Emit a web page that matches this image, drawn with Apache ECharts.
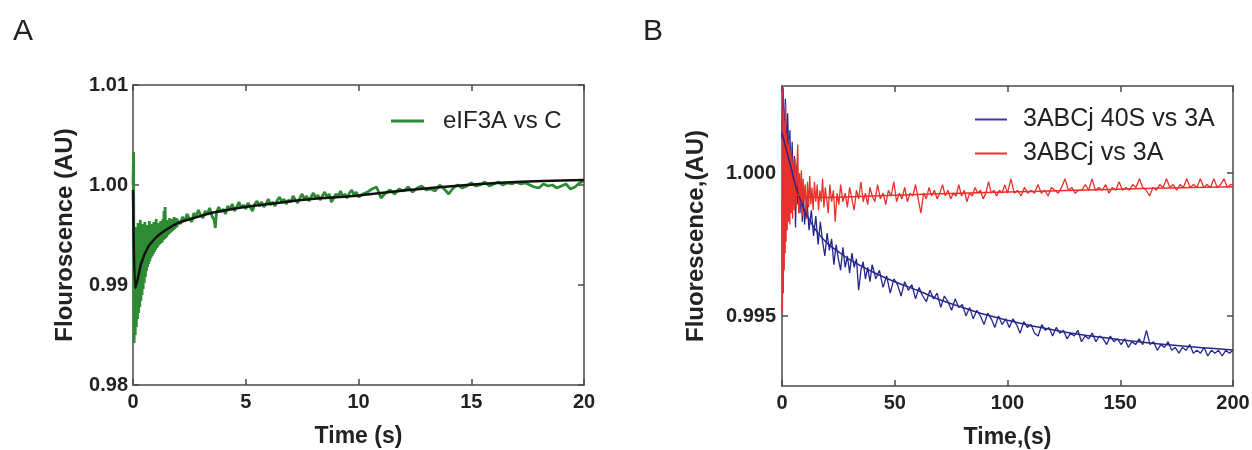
<!DOCTYPE html>
<html>
<head>
<meta charset="utf-8">
<script src="https://cdn.jsdelivr.net/npm/echarts@6/dist/echarts.min.js"></script>
<style>
html,body{margin:0;padding:0;background:#fff;}
#chart{width:1252px;height:450px;}
</style>
</head>
<body>
<div id="chart"></div>
<script>
// ---------- Panel A data: [time (s), fluorescence] ----------
const aSignal = [
[0,1.0000],[0.025,1.0033],[0.05,0.9842],[0.075,0.9950],[0.1,0.9850],[0.125,0.9958],[0.15,0.9858],[0.175,0.9948],[0.2,0.9866],[0.225,0.9962],
[0.25,0.9872],[0.275,0.9952],[0.3,0.9878],[0.325,0.9965],[0.35,0.9884],[0.375,0.9955],[0.4,0.9890],[0.425,0.9961],[0.45,0.9896],[0.475,0.9950],
[0.5,0.9902],[0.525,0.9963],[0.55,0.9908],[0.575,0.9957],[0.6,0.9914],[0.625,0.9960],[0.65,0.9918],[0.675,0.9953],[0.7,0.9921],[0.725,0.9964],
[0.75,0.9924],[0.775,0.9956],[0.8,0.9927],[0.825,0.9961],[0.85,0.9929],[0.875,0.9955],[0.9,0.9931],[0.925,0.9963],[0.95,0.9933],[0.975,0.9957],
[1.0,0.9935],[1.025,0.9966],[1.05,0.9937],[1.075,0.9958],[1.1,0.9938],[1.125,0.9962],[1.15,0.9940],[1.175,0.9957],[1.2,0.9941],[1.225,0.9964],
[1.25,0.9942],[1.275,0.9960],[1.3,0.9943],[1.325,0.9966],[1.35,0.9945],[1.375,0.9974],[1.4,0.9946],[1.425,0.9978],[1.45,0.9947],[1.475,0.9962],
[1.5,0.9948],[1.525,0.9965],[1.55,0.9950],[1.575,0.9961],[1.6,0.9951],[1.625,0.9967],[1.65,0.9952],[1.675,0.9963],[1.7,0.9953],[1.725,0.9966],
[1.75,0.9954],[1.775,0.9962],[1.8,0.9955],[1.825,0.9968],[1.85,0.9956],[1.875,0.9964],[1.9,0.9957],[1.925,0.9967],[1.95,0.9958],[1.975,0.9965],
[2.0,0.9966],[2.1,0.9961],[2.2,0.9968],[2.3,0.9964],[2.4,0.9971],[2.5,0.9966],[2.6,0.9963],[2.7,0.9972],[2.8,0.9968],[2.9,0.9975],
[3.0,0.9970],[3.1,0.9967],[3.2,0.9974],[3.3,0.9971],[3.4,0.9977],[3.5,0.9969],[3.6,0.9965],[3.65,0.9957],[3.7,0.9972],[3.8,0.9978],[3.9,0.9973],
[4.0,0.9976],[4.1,0.9971],[4.2,0.9979],[4.3,0.9975],[4.4,0.9981],[4.5,0.9974],[4.6,0.9978],[4.7,0.9983],[4.8,0.9977],[4.9,0.9980],
[5.0,0.9976],[5.1,0.9982],[5.2,0.9978],[5.3,0.9974],[5.4,0.9981],[5.5,0.9984],[5.6,0.9979],[5.7,0.9983],[5.8,0.9978],[5.9,0.9981],
[6.0,0.9986],[6.1,0.9980],[6.2,0.9983],[6.3,0.9979],[6.4,0.9985],[6.5,0.9988],[6.6,0.9983],[6.7,0.9986],[6.8,0.9981],[6.9,0.9985],
[7.0,0.9983],[7.1,0.9989],[7.2,0.9985],[7.3,0.9982],[7.4,0.9987],[7.5,0.9991],[7.6,0.9986],[7.7,0.9989],[7.8,0.9984],[7.9,0.9988],
[8.0,0.9992],[8.1,0.9987],[8.2,0.9990],[8.3,0.9985],[8.4,0.9989],[8.5,0.9993],[8.6,0.9988],[8.7,0.9991],[8.8,0.9983],[8.9,0.9987],
[9.0,0.9991],[9.1,0.9989],[9.2,0.9994],[9.3,0.9988],[9.4,0.9991],[9.5,0.9987],[9.6,0.9992],[9.7,0.9995],[9.8,0.9990],[9.9,0.9993],
[10.0,0.9988],[10.2,0.9991],[10.4,0.9993],[10.6,0.9996],[10.8,0.9998],[11.0,0.9987],[11.2,0.9992],[11.4,0.9995],[11.6,0.9991],[11.8,0.9996],
[12.0,0.9994],[12.2,0.9998],[12.4,0.9993],[12.6,0.9997],[12.8,0.9999],[13.0,0.9995],[13.2,0.9996],[13.4,0.9994],[13.6,1.0000],[13.8,0.9996],
[14.0,0.9991],[14.2,0.9997],[14.4,1.0000],[14.6,0.9997],[14.8,0.9999],[15.0,1.0002],[15.2,0.9999],[15.4,1.0000],[15.6,1.0003],[15.8,0.9999],
[16.0,1.0001],[16.2,1.0003],[16.4,1.0000],[16.6,1.0002],[16.8,1.0001],[17.0,1.0003],[17.2,1.0001],[17.4,1.0002],[17.6,1.0000],[17.8,0.9998],
[18.0,0.9997],[18.2,1.0001],[18.4,0.9999],[18.6,1.0000],[18.8,0.9997],[19.0,0.9999],[19.2,1.0001],[19.4,0.9996],[19.6,0.9998],[19.8,1.0002],[20.0,1.0004]
];
const aFit = [[0,0.9995],[0.1,0.9897],[0.2,0.9905],[0.37,0.9922],[0.67,0.9938],[1.0,0.9947],[1.26,0.9952],[1.6,0.9957],[2.0,0.9962],[2.7,0.9967],
[3.47,0.9972],[4.2,0.9975],[4.95,0.9978],[6.4,0.9982],[7.9,0.9986],[9.8,0.9989],[12,0.99945],[14.8,1.0000],[17,1.0003],[20,1.0005]];

// ---------- Panel B data: [time (s), fluorescence] ----------
const bBlue = [
[0,1.0012],[0.5,1.0030],[1.0,1.0010],[1.5,1.0026],[2.0,1.0006],[2.5,1.0021],[3.0,1.0004],[3.5,1.0015],[4.0,0.9996],[4.5,1.0011],
[5.0,0.9993],[5.5,1.0006],[6.0,0.9981],[6.5,1.0003],[7.0,0.9989],[7.5,0.9998],[8.0,0.9986],[8.5,0.9997],[9.0,0.9983],[9.5,0.9994],
[10,0.9982],[11,0.9991],[12,0.9980],[13,0.9987],[14,0.9978],[15,0.9985],[16,0.9975],[17,0.9983],[18,0.9976],[19,0.9971],
[20,0.9979],[21,0.9973],[22,0.9977],[23,0.9968],[24,0.9975],[25,0.9970],[26,0.9966],[27,0.9974],[28,0.9967],[29,0.9971],
[30,0.9965],[31,0.9972],[32,0.9967],[33,0.9970],[34,0.9959],[35,0.9966],[36,0.9969],[37,0.9963],[38,0.9967],[39,0.9962],
[40,0.9968],[41.6,0.9963],[43.2,0.9966],[44.8,0.9960],[46.4,0.9964],[48,0.9958],[49.6,0.9963],[51.2,0.9961],[52.8,0.9957],[54.4,0.9962],
[56,0.9959],[57.6,0.9961],[59.2,0.9956],[60.8,0.9960],[62.4,0.9957],[64,0.9955],[65.6,0.9959],[67.2,0.9956],[68.8,0.9958],[70.4,0.9953],
[72,0.9957],[73.6,0.9955],[75.2,0.9952],[76.8,0.9956],[78.4,0.9953],[80,0.9954],[81.6,0.9950],[83.2,0.9953],[84.8,0.9949],[86.4,0.9952],
[88,0.9950],[89.6,0.9947],[91.2,0.9951],[92.8,0.9949],[94.4,0.9946],[96,0.9950],[97.6,0.9947],[99.2,0.9949],[100.8,0.9946],[102.4,0.9949],
[104,0.9947],[105.6,0.9944],[107.2,0.9948],[108.8,0.9946],[110.4,0.9947],[112,0.9944],[113.6,0.9943],[115.2,0.9947],[116.8,0.9945],[118.4,0.9946],
[120,0.9943],[121.6,0.9946],[123.2,0.9944],[124.8,0.9945],[126.4,0.9942],[128,0.9944],[129.6,0.9943],[131.2,0.9945],[132.8,0.9941],[134.4,0.9943],
[136,0.9942],[137.6,0.9944],[139.2,0.9941],[140.8,0.9943],[142.4,0.9942],[144,0.9940],[145.6,0.9943],[147.2,0.9941],[148.8,0.9942],[150.4,0.9940],
[152,0.9942],[153.6,0.9939],[155.2,0.9941],[156.8,0.9940],[158.4,0.9942],[160,0.9940],[161.6,0.9945],[163.2,0.9940],[164.8,0.9941],[166.4,0.9938],
[168,0.9940],[169.6,0.9939],[171.2,0.9941],[172.8,0.9938],[174.4,0.9939],[176,0.9937],[177.6,0.9939],[179.2,0.9938],[180.8,0.9940],[182.4,0.9937],
[184,0.9938],[185.6,0.9937],[187.2,0.9939],[188.8,0.9936],[190.4,0.9938],[192,0.9937],[193.6,0.9938],[195.2,0.9936],[196.8,0.9938],[198.4,0.9937],[200,0.9938]
];
const bBlueFit = [[0,1.0014],[2,1.0008],[4,1.0002],[6,0.99955],[8,0.9991],[10,0.9987],[13,0.99825],[16,0.9979],[20,0.99755],[25,0.99725],
[30,0.99697],[40,0.99655],[50,0.9962],[60,0.9959],[70,0.99557],[80,0.9953],[90,0.99505],[100,0.99485],[110,0.99467],[120,0.99452],
[130,0.99438],[140,0.99427],[150,0.99417],[160,0.99408],[170,0.99400],[180,0.99393],[190,0.99387],[200,0.99381]];
const bRed = [
[0,0.9990],[0.2,0.9951],[0.4,1.0030],[0.6,0.9958],[0.8,1.0022],[1.0,0.9966],[1.2,1.0018],[1.4,0.9972],[1.6,1.0024],[1.8,0.9976],
[2.0,1.0014],[2.3,0.9980],[2.6,1.0010],[2.9,0.9983],[3.2,1.0012],[3.5,0.9982],[3.8,1.0008],[4.1,0.9986],[4.4,1.0006],[4.7,0.9984],
[5.0,1.0004],[5.4,0.9987],[5.8,1.0005],[6.2,0.9988],[6.6,1.0002],[7.0,1.0010],[7.4,0.9986],[7.8,1.0000],[8.2,0.9989],[8.6,1.0001],
[9.0,0.9985],[9.4,0.9998],[9.8,0.9990],[10.3,0.9996],[10.8,0.9984],[11.3,0.9997],[11.8,0.9988],[12.3,0.9999],[12.8,0.9989],[13.3,0.9995],
[13.8,0.9987],[14.4,0.9997],[15,0.9990],[15.6,0.9996],[16.2,0.9987],[16.8,0.9994],[17.4,0.9990],[18,0.9998],[18.6,0.9988],[19.2,0.9995],
[19.8,0.9991],[20.5,0.9986],[21.2,0.9996],[22,0.9990],[22.8,0.9994],[23.6,0.9983],[24.4,0.9993],[25.2,0.9989],[26,0.9996],[27,0.9990],
[28,0.9993],[29,0.9988],[30,0.9995],[31,0.9991],[32,0.9987],[33,0.9994],[34,0.9991],[35,0.9997],[36,0.9990],[37,0.9993],
[38,0.9989],[39,0.9995],[40,0.9992],[41.2,0.9990],[42.4,0.9996],[43.6,0.9991],[44.8,0.9993],[46,0.9989],[47.2,0.9994],[48.4,0.9992],
[49.6,0.9997],[50.8,0.9990],[52,0.9993],[53.2,0.9991],[54.4,0.9995],[55.6,0.9990],[56.8,0.9993],[58,0.9992],[59.2,0.9996],[60.4,0.9991],
[61.6,0.9986],[62.8,0.9993],[64,0.9991],[65.2,0.9995],[66.4,0.9992],[67.6,0.9994],[68.8,0.9991],[70,0.9993],[71.2,0.9996],[72.4,0.9992],
[73.6,0.9994],[74.8,0.9991],[76,0.9993],[77.2,0.9992],[78.4,0.9996],[79.6,0.9992],[80.8,0.9994],[82,0.9990],[83.2,0.9993],[84.4,0.9992],
[85.6,0.9995],[86.8,0.9993],[88,0.9994],[89.2,0.9991],[90.4,0.9993],[91.6,0.9997],[92.8,0.9993],[94,0.9994],[95.2,0.9992],[96.4,0.9994],
[97.6,0.9993],[98.8,0.9996],[100,0.9993],[101.5,0.9998],[103,0.9993],[104.5,0.9994],[106,0.9992],[107.5,0.9995],[109,0.9993],[110.5,0.9994],
[112,0.9993],[113.5,0.9996],[115,0.9993],[116.5,0.9994],[118,0.9992],[119.5,0.9995],[121,0.9994],[122.5,0.9993],[124,0.9995],[125.5,0.9998],
[127,0.9994],[128.5,0.9995],[130,0.9993],[131.5,0.9994],[133,0.9994],[134.5,0.9996],[136,0.9994],[137.5,0.9998],[139,0.9994],[140.5,0.9995],
[142,0.9994],[143.5,0.9996],[145,0.9993],[146.5,0.9995],[148,0.9994],[149.5,0.9997],[151,0.9994],[152.5,0.9995],[154,0.9994],[155.5,0.9996],
[157,0.9995],[158.5,0.9998],[160,0.9995],[161.5,0.9994],[163,0.9992],[164.5,0.9995],[166,0.9994],[167.5,0.9996],[169,0.9995],[170.5,0.9998],
[172,0.9995],[173.5,0.9996],[175,0.9994],[176.5,0.9996],[178,0.9995],[179.5,0.9998],[181,0.9995],[182.5,0.9996],[184,0.9995],[185.5,0.9998],
[187,0.9995],[188.5,0.9996],[190,0.9995],[191.5,0.9998],[193,0.9995],[194.5,0.9996],[196,0.9998],[197.5,0.9995],[199,0.9996],[200,0.9996]
];
const bRedFit = [[0,1.0004],[2,0.9998],[5,0.99935],[10,0.99918],[20,0.99915],[40,0.9992],[60,0.99925],[80,0.9993],[100,0.99934],[130,0.9994],[160,0.99946],[200,0.99952]];

// ---------- axis ticks ----------
const aXTicks = {min: 0, max: 20, interval: 5};
const aYTicks = {min: 0.98, max: 1.01, interval: 0.01};
const bXTicks = {min: 0, max: 200, interval: 50};
const bYRange = {min: 0.99255, max: 1.00305};
const bYTickValues = [0.995, 1.000];

const FONT = 'Liberation Sans, Arial, sans-serif';
const AX = '#4a4a4a';
const tickLbl = {fontFamily: FONT, fontSize: 20, fontWeight: 'bold', color: '#222'};
const titleFont = {fontFamily: FONT, fontSize: 23, fontWeight: 'bold', color: '#222'};

function frameX(gridIndex, range, bottom, extra) {
  return Object.assign({
    type: 'value', gridIndex, position: bottom ? 'bottom' : 'top',
    min: range.min, max: range.max, interval: range.interval,
    axisLine: {show: true, onZero: false, lineStyle: {color: AX, width: 1.5}},
    axisTick: {show: true, inside: true, length: 6, lineStyle: {color: AX, width: 1.5}},
    axisLabel: bottom ? Object.assign({margin: 7}, tickLbl) : {show: false},
    splitLine: {show: false}
  }, extra || {});
}
function frameY(gridIndex, range, left, extra) {
  return Object.assign({
    type: 'value', gridIndex, position: left ? 'left' : 'right',
    min: range.min, max: range.max, interval: range.interval,
    axisLine: {show: true, onZero: false, lineStyle: {color: AX, width: 1.5}},
    axisTick: {show: true, inside: true, length: 6, lineStyle: {color: AX, width: 1.5}},
    axisLabel: left ? Object.assign({margin: 5}, tickLbl) : {show: false},
    splitLine: {show: false}
  }, extra || {});
}

const chart = echarts.init(document.getElementById('chart'), null, {renderer: 'canvas'});
const option = {
  animation: false,
  backgroundColor: '#fff',
  title: [
    {text: 'A', left: 8, top: 12, textStyle: {fontFamily: FONT, fontSize: 30, fontWeight: 'normal', color: '#222'}},
    {text: 'B', left: 638, top: 12, textStyle: {fontFamily: FONT, fontSize: 30, fontWeight: 'normal', color: '#222'}}
  ],
  grid: [
    {left: 133, top: 85, width: 451, height: 300, outerBoundsMode: 'none', containLabel: false},
    {left: 782, top: 86, width: 451, height: 300, outerBoundsMode: 'none', containLabel: false}
  ],
  legend: [
    {
      data: ['eIF3A vs C'], left: 386, top: 104, icon: 'rect',
      itemWidth: 33, itemHeight: 3,
      textStyle: {fontFamily: FONT, fontSize: 24, color: '#222', padding: [0, 0, 0, 14]}
    },
    {
      data: ['3ABCj 40S vs 3A', '3ABCj vs 3A'], left: 970, top: 102, orient: 'vertical', icon: 'rect',
      itemWidth: 32, itemHeight: 2, itemGap: 9,
      textStyle: {fontFamily: FONT, fontSize: 25, color: '#222', lineHeight: 25, padding: [0, 0, 0, 11]}
    }
  ],
  xAxis: [
    frameX(0, aXTicks, true, {name: 'Time (s)', nameLocation: 'middle', nameGap: 40, nameTextStyle: titleFont}),
    frameX(0, aXTicks, false),
    frameX(1, bXTicks, true, {name: 'Time,(s)', nameLocation: 'middle', nameGap: 40, nameTextStyle: titleFont}),
    frameX(1, bXTicks, false)
  ],
  yAxis: [
    frameY(0, aYTicks, true, {name: 'Flouroscence (AU)', nameLocation: 'middle', nameGap: 56,
      axisLabel: Object.assign({margin: 5, formatter: v => v.toFixed(2)}, tickLbl),
      nameTextStyle: Object.assign({}, titleFont, {fontSize: 24})}),
    frameY(0, aYTicks, false),
    frameY(1, bYRange, true, {name: 'Fluorescence,(AU)', nameLocation: 'middle', nameGap: 74,
      axisTick: {show: true, inside: true, length: 6, customValues: bYTickValues, lineStyle: {color: AX, width: 1.5}},
      axisLabel: Object.assign({margin: 6, customValues: bYTickValues, formatter: v => v.toFixed(3)}, tickLbl),
      nameTextStyle: Object.assign({}, titleFont, {fontSize: 24})}),
    frameY(1, bYRange, false, {
      axisTick: {show: true, inside: true, length: 6, customValues: bYTickValues, lineStyle: {color: AX, width: 1.5}}})
  ],
  series: [
    {name: 'eIF3A vs C', type: 'line', xAxisIndex: 0, yAxisIndex: 0, data: aSignal,
      showSymbol: false, lineStyle: {color: '#2e8b34', width: 2.8}, itemStyle: {color: '#2e8b34'}, z: 2},
    {name: 'fitA', type: 'line', xAxisIndex: 0, yAxisIndex: 0, data: aFit,
      showSymbol: false, smooth: 0.3, lineStyle: {color: '#111', width: 2.5}, z: 3},
    {name: '3ABCj 40S vs 3A', type: 'line', xAxisIndex: 2, yAxisIndex: 2, data: bBlue,
      showSymbol: false, lineStyle: {color: '#26268f', width: 1.3}, itemStyle: {color: '#3a3aa6'}, z: 2},
    {name: '3ABCj vs 3A', type: 'line', xAxisIndex: 2, yAxisIndex: 2, data: bRed,
      showSymbol: false, lineStyle: {color: '#e8312a', width: 1.3}, itemStyle: {color: '#e8312a'}, z: 3},
    {name: 'fitBlue', type: 'line', xAxisIndex: 2, yAxisIndex: 2, data: bBlueFit,
      showSymbol: false, smooth: 0.3, lineStyle: {color: '#26268f', width: 1.5}, z: 4},
    {name: 'fitRed', type: 'line', xAxisIndex: 2, yAxisIndex: 2, data: bRedFit,
      showSymbol: false, smooth: 0.3, lineStyle: {color: '#e8312a', width: 1.5}, z: 4}
  ]
};
chart.setOption(option);
</script>
</body>
</html>
